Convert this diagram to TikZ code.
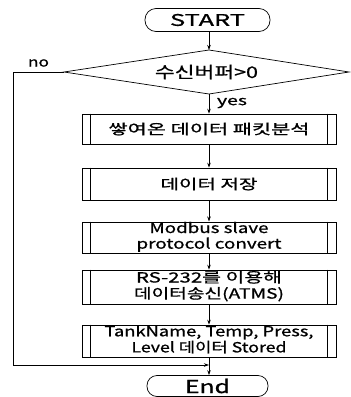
\documentclass[tikz,border=0pt]{standalone}
\usepackage{fontspec}
\usepackage{graphicx}
\setmainfont{Noto Sans CJK KR}[FakeBold=0.8]
\usetikzlibrary{arrows.meta}
\newcommand{\tw}[2]{\resizebox{#1}{\height}{#2}}
\newcommand{\twol}[2]{\begin{tabular}{@{}c@{}}#1\\#2\end{tabular}}
\begin{document}
\begin{tikzpicture}[x=1pt,y=-1pt,
  line width=0.7pt,
  term/.style={draw,rounded corners=11pt,minimum width=#1,minimum height=23pt,inner sep=0pt,font=\fontsize{16}{18}\selectfont},
  proc/.style={draw,minimum width=254pt,minimum height=#1,inner sep=0pt,align=center,font=\fontsize{14}{15}\selectfont},
  arr/.style={-{Stealth[length=5pt,width=3.5pt]}},
  lab/.style={font=\fontsize{13}{15}\selectfont,inner sep=0pt}]
\useasboundingbox (0,0) rectangle (351,397);
\renewcommand{\arraystretch}{1.0}
\node[term=125pt] (start) at (207.5,20) {\tw{75pt}{START}};
\coordinate (dt) at (209,50);
\coordinate (dl) at (64,72);
\coordinate (dr) at (349,72);
\coordinate (db) at (209,94);
\draw (dt) -- (dr) -- (db) -- (dl) -- cycle;
\node[inner sep=0pt,font=\fontsize{16}{18}\selectfont] (dec) at (206.5,72) {\tw{103pt}{수신버퍼>0}};
\node[proc=30pt] (b1) at (209,129) {\tw{201pt}{쌓여온 데이터 패킷분석}};
\node[proc=32pt] (b2) at (209,184) {\tw{97pt}{데이터 저장}};
\node[proc=31pt] (b3) at (209,237.5) {\twol{\tw{119pt}{Modbus slave}}{\tw{145pt}{protocol convert}}};
\node[proc=34pt] (b4) at (209,287) {\twol{\tw{146pt}{RS-232를 이용해}}{\tw{150pt}{데이터송신(ATMS)}}};
\node[proc=32pt] (b5) at (209,341) {\twol{\tw{209pt}{TankName, Temp, Press,}}{\tw{155pt}{Level 데이터 Stored}}};
\node[term=121pt,minimum height=21pt,rounded corners=10pt,font=\fontsize{18}{20}\selectfont] (end) at (207.5,386) {\tw{45pt}{End}};
\foreach \n in {b1,b2,b3,b4,b5} {
  \draw ([xshift=9pt]\n.north west) -- ([xshift=9pt]\n.south west);
  \draw ([xshift=-9pt]\n.north east) -- ([xshift=-9pt]\n.south east);
}
\node[lab] (no) at (38.5,63) {\tw{21pt}{no}};
\node[lab] (yes) at (232,103) {\tw{30pt}{yes}};
\coordinate (lc) at (13,72);
\coordinate (j) at (209,365);
\draw[arr] (start.south -| dt) -- (dt);
\draw[arr] (db) -- (b1.north);
\draw[arr] (b1) -- (b2);
\draw[arr] (b2) -- (b3);
\draw[arr] (b3) -- (b4);
\draw[arr] (b4) -- (b5);
\draw[arr] (b5.south) -- (end.north -| b5.south);
\draw[arr] (dl) -- (lc) |- (j);
\end{tikzpicture}
\end{document}
